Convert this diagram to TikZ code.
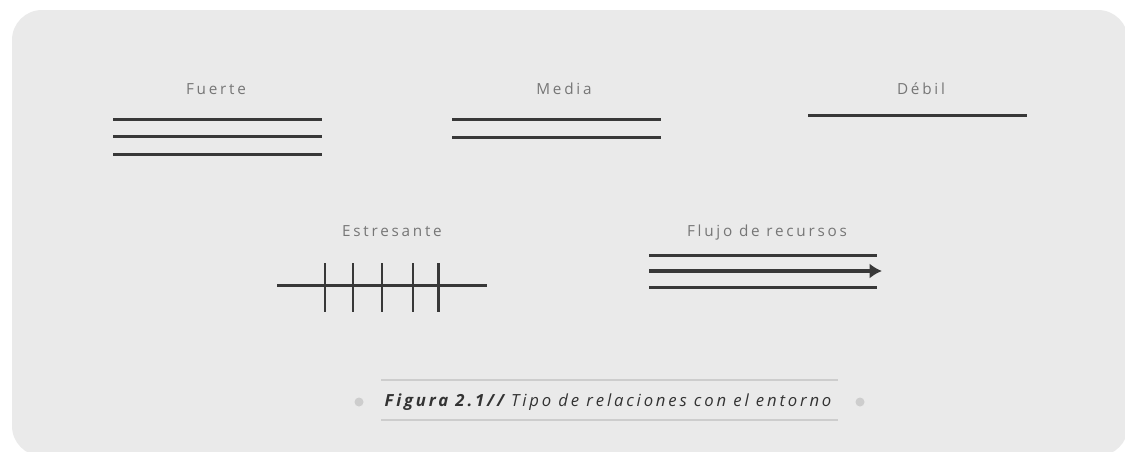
\documentclass[tikz,border=0pt]{standalone}
\usepackage{fontspec}
\setmainfont{Open Sans}
\newfontfamily\labelfont[LetterSpace=18]{Open Sans}
\newfontfamily\captionfont[LetterSpace=17]{Open Sans}
\usetikzlibrary{arrows.meta, positioning}

\definecolor{panelgray}{HTML}{EAEAEA}
\definecolor{linegray}{HTML}{383838}
\definecolor{textgray}{HTML}{767676}
\definecolor{rulegray}{HTML}{CDCDCD}

\begin{document}
\begin{tikzpicture}[
            x = 0.02cm, y = -0.02cm, % one unit is one pixel of the figure
            > = {Latex[length=7pt, width=8.5pt]}, % arrow head style
            rel/.style = {draw = linegray, line width = 1.7pt}, % relation line
            lbl/.style = {text = textgray, font = \labelfont\fontsize{8.7}{10}\selectfont,
                inner sep = 0pt, anchor = base}
        ]

        \useasboundingbox (0,0) rectangle (1125,451);
        \clip (0,0) rectangle (1125,451);

        % background panel
        \fill[panelgray, rounded corners = 0.6cm] (12,10) rectangle (1128,456);

        % first row
        \node[lbl] (fuerte) at (216,94) {Fuerte};
        \node[lbl] (media) at (564,94) {Media};
        \node[lbl] (debil) at (921,94) {Débil};

        \foreach \y in {119, 136, 154}
            \draw[rel] (113,\y) -- (322,\y);
        \foreach \y in {119, 137}
            \draw[rel] (452,\y) -- (661,\y);
        \draw[rel] (808,115) -- (1027,115);

        % second row
        \node[lbl] (estresante) at (392,236) {Estresante};
        \node[lbl] (flujo) at (767,236) {Flujo de recursos};

        \draw[rel] (277,285) -- (487,285);
        \foreach \x in {325, 353, 382, 413, 438}
            \draw[rel] (\x,263) -- (\x,312);

        \draw[rel] (649,255) -- (877,255);
        \draw[rel, line width = 2.5pt, ->] (649,271) -- (882,271);
        \draw[rel] (649,287) -- (877,287);

        % caption
        \node[inner sep = 0pt, text = black!80, font = \captionfont\fontsize{9.5}{11}\selectfont\itshape] (caption) at (608,402)
            {\textbf{Figura 2.1//} Tipo de relaciones con el entorno};
        \draw[rulegray, line width = 1.2pt] (381,380) -- (838,380);
        \draw[rulegray, line width = 1.2pt] (381,420) -- (838,420);
        \fill[rulegray] (359,402) circle (4.5);
        \fill[rulegray] (860,402) circle (4.5);

    \end{tikzpicture}
\end{document}
